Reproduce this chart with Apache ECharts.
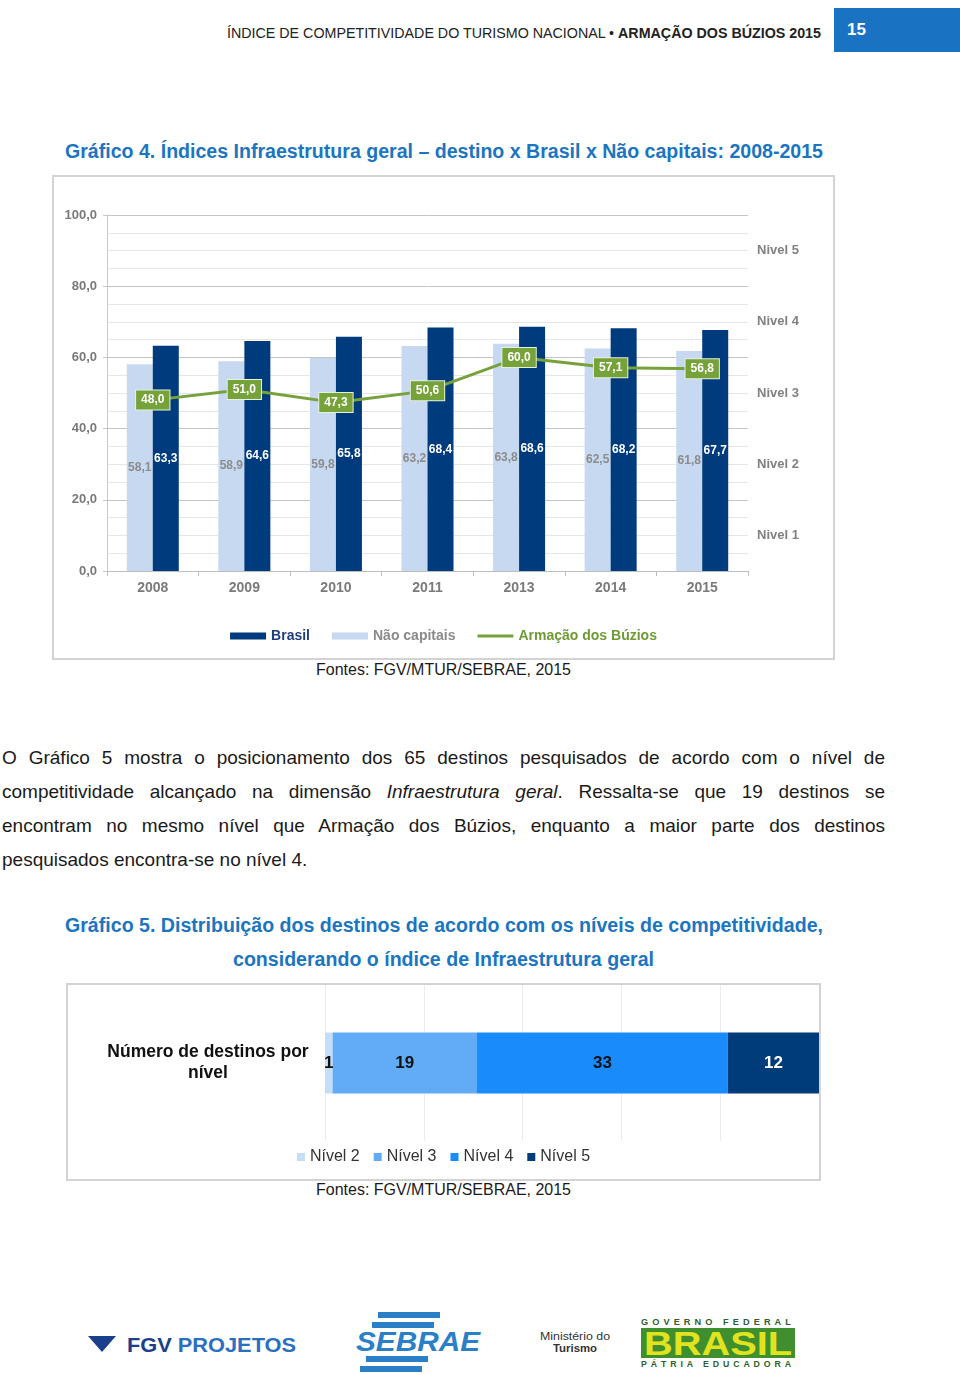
<!DOCTYPE html>
<html><head><meta charset="utf-8">
<script src="https://cdn.jsdelivr.net/npm/echarts@6/dist/echarts.min.js"></script>
<style>
html,body{margin:0;padding:0;background:#fff;}
body{width:960px;height:1375px;position:relative;overflow:hidden;font-family:"Liberation Sans",Arial,sans-serif;color:#1a1a1a;}
.abs{position:absolute;white-space:nowrap;}
.fit{transform-origin:left top;display:inline-block;}
.title{color:#1b75c0;font-weight:bold;font-size:20px;}
.para div{text-align:justify;text-align-last:justify;font-size:19px;line-height:34px;height:34px;white-space:normal;}
.para div.last{text-align-last:left;}
.box{position:absolute;border:2px solid #d3d3d3;box-sizing:border-box;}
</style></head>
<body>
<div class="abs" style="left:227px;top:25px;font-size:14.5px;color:#222;" data-w="594"><span class="fit">ÍNDICE DE COMPETITIVIDADE DO TURISMO NACIONAL • <b>ARMAÇÃO DOS BÚZIOS 2015</b></span></div>
<div class="abs" style="left:834px;top:8px;width:126px;height:44px;background:#1a72c2;"></div>
<div class="abs" style="left:847px;top:20px;color:#fff;font-weight:bold;font-size:17px;">15</div>

<div class="abs title" style="left:65px;top:140px;" data-w="758"><span class="fit">Gráfico 4. Índices Infraestrutura geral – destino x Brasil x Não capitais: 2008-2015</span></div>

<div class="box" style="left:52px;top:175px;width:783px;height:485px;"></div>
<div id="c1" style="position:absolute;left:54px;top:177px;width:779px;height:481px;"></div>
<div class="abs" style="left:316px;top:661px;font-size:16px;" data-w="255"><span class="fit">Fontes: FGV/MTUR/SEBRAE, 2015</span></div>

<div class="abs para" style="left:2px;top:741px;width:883px;white-space:normal;">
<div>O Gráfico 5 mostra o posicionamento dos 65 destinos pesquisados de acordo com o nível de</div>
<div>competitividade alcançado na dimensão <i>Infraestrutura geral</i>. Ressalta-se que 19 destinos se</div>
<div>encontram no mesmo nível que Armação dos Búzios, enquanto a maior parte dos destinos</div>
<div class="last">pesquisados encontra-se no nível 4.</div>
</div>

<div class="abs title" style="left:65px;top:914px;" data-w="758"><span class="fit">Gráfico 5. Distribuição dos destinos de acordo com os níveis de competitividade,</span></div>
<div class="abs title" style="left:233px;top:948px;" data-w="421"><span class="fit">considerando o índice de Infraestrutura geral</span></div>

<div class="box" style="left:66px;top:983px;width:755px;height:198px;"></div>
<div id="c2" style="position:absolute;left:68px;top:985px;width:751px;height:194px;"></div>
<div class="abs" style="left:316px;top:1181px;font-size:16px;" data-w="255"><span class="fit">Fontes: FGV/MTUR/SEBRAE, 2015</span></div>

<!-- logos as text -->
<div class="abs" style="left:88px;top:1336px;width:0;height:0;border-left:14px solid transparent;border-right:14px solid transparent;border-top:16px solid #1b3f8b;"></div>
<div class="abs" style="left:127px;top:1333px;font-size:21px;font-weight:900;color:#1b3f8b;" data-w="169"><span class="fit">FGV <span style="color:#2a6fc0">PROJETOS</span></span></div>
<div class="abs" style="left:378px;top:1312px;width:62px;height:6px;background:#2a7fc6;"></div>
<div class="abs" style="left:372px;top:1322px;width:62px;height:6px;background:#2a7fc6;"></div>
<div class="abs" style="left:366px;top:1356px;width:62px;height:6px;background:#2a7fc6;"></div>
<div class="abs" style="left:360px;top:1366px;width:62px;height:6px;background:#2a7fc6;"></div>
<div class="abs" style="left:356px;top:1326px;font-size:28px;font-weight:900;font-style:italic;color:#2a7fc6;" data-w="124"><span class="fit">SEBRAE</span></div>
<div class="abs" style="left:540px;top:1330px;font-size:11px;color:#333;" data-w="70"><span class="fit">Ministério do</span></div>
<div class="abs" style="left:553px;top:1342px;font-size:11px;font-weight:bold;color:#333;" data-w="44"><span class="fit">Turismo</span></div>
<div class="abs" style="left:641px;top:1317px;font-size:9px;font-weight:bold;color:#2f5f2a;letter-spacing:4px;" data-w="154"><span class="fit">GOVERNO FEDERAL</span></div>
<div class="abs" style="left:641px;top:1328px;width:154px;height:30px;background:#3f8f2f;"></div>
<div class="abs" style="left:644px;top:1326px;font-size:34px;line-height:34px;font-weight:900;color:#e2e31f;" data-w="148"><span class="fit">BRASIL</span></div>
<div class="abs" style="left:641px;top:1359px;font-size:9px;font-weight:bold;color:#2f5f2a;letter-spacing:4px;" data-w="154"><span class="fit">PÁTRIA EDUCADORA</span></div>

<script>
// ---------- data ----------
const years = ['2008','2009','2010','2011','2013','2014','2015'];
const brasil = [63.3, 64.6, 65.8, 68.4, 68.6, 68.2, 67.7];
const naoCapitais = [58.1, 58.9, 59.8, 63.2, 63.8, 62.5, 61.8];
const buzios = [48.0, 51.0, 47.3, 50.6, 60.0, 57.1, 56.8];
const levelTicks = [10, 30, 50, 70, 90];
const levelLabels = ['Nivel 1', 'Nivel 2', 'Nivel 3', 'Nivel 4', 'Nivel 5'];

const dist = [1, 19, 33, 12];
const distNames = ['Nível 2', 'Nível 3', 'Nível 4', 'Nível 5'];
const distCategory = ['Número de destinos por\nnível'];

// ---------- fit page texts ----------
document.querySelectorAll('[data-w]').forEach(el => {
  const s = el.querySelector('.fit');
  const w = s.getBoundingClientRect().width;
  const t = parseFloat(el.dataset.w);
  if (w > 0) s.style.transform = 'scaleX(' + (t / w) + ')';
});

const NF = '"Liberation Sans Narrow","Arial Narrow","Liberation Sans",Arial,sans-serif';
const fmt = v => Number(v).toFixed(1).replace('.', ',');
const cDark = '#003b7e', cLight = '#c6d9f0', cGreen = '#77a23b';

const c1 = echarts.init(document.getElementById('c1'), null, {renderer:'canvas'});
c1.setOption({
  animation:false,
  textStyle:{fontFamily:NF},
  grid:{left:53, right:85, top:38, bottom:87},
  legend:{
    top:447, left:'center', itemWidth:36, itemHeight:7, itemGap:22,
    textStyle:{fontFamily:NF, fontWeight:'bold', fontSize:14},
    data:[
      {name:'Brasil', icon:'rect', textStyle:{color:'#1f3d7a'}},
      {name:'Não capitais', icon:'rect', textStyle:{color:'#8a8a8a'}},
      {name:'Armação dos Búzios', icon:'path://M0,0H36V3H0Z', textStyle:{color:'#6f9a34'}}
    ]
  },
  xAxis:{
    type:'category', data:years,
    axisLine:{lineStyle:{color:'#bdbdbd'}},
    axisTick:{show:true, length:5, lineStyle:{color:'#bdbdbd'}},
    axisLabel:{color:'#7a7a7a', fontWeight:'bold', fontSize:14, margin:10, fontFamily:NF}
  },
  yAxis:[{
    type:'value', min:0, max:100, interval:20,
    axisLine:{show:true, lineStyle:{color:'#c8c8c8'}},
    axisTick:{show:true, length:4, lineStyle:{color:'#c8c8c8'}},
    axisLabel:{color:'#7a7a7a', fontWeight:'bold', fontSize:13, formatter:fmt, margin:10, fontFamily:NF},
    splitLine:{lineStyle:{color:'#c4c4c4', width:1}},
    minorTick:{show:false, splitNumber:4},
    minorSplitLine:{show:true, lineStyle:{color:'#e6e6e6', width:1}}
  },{
    type:'value', min:0, max:100, interval:10, position:'right',
    axisLine:{show:false}, axisTick:{show:false}, splitLine:{show:false},
    axisLabel:{color:'#808080', fontWeight:'bold', fontSize:13, margin:9, fontFamily:NF,
      formatter:v => { const i = levelTicks.indexOf(Math.round(v)); return i >= 0 ? levelLabels[i] : ''; }}
  }],
  series:[
    {name:'Não capitais', type:'bar', data:naoCapitais, barWidth:26, barGap:'0%',
      itemStyle:{color:cLight},
      label:{show:true, position:'inside', formatter:p => fmt(p.value), color:'#8c8c8c', fontWeight:'bold', fontSize:12, fontFamily:NF}},
    {name:'Brasil', type:'bar', data:brasil, barWidth:26, barGap:'0%',
      itemStyle:{color:cDark},
      label:{show:true, position:'inside', formatter:p => fmt(p.value), color:'#fff', fontWeight:'bold', fontSize:12, fontFamily:NF}},
    {name:'Armação dos Búzios', type:'line', data:buzios, symbol:'circle', symbolSize:1, showSymbol:true, z:5,
      lineStyle:{color:cGreen, width:3}, itemStyle:{color:cGreen},
      label:{show:true, position:'inside', formatter:p => fmt(p.value), color:'#fff', fontWeight:'bold', fontSize:12,
        backgroundColor:'#76a23a', borderColor:'#e8f0dc', borderWidth:1, padding:[4,5,3,5], fontFamily:NF}}
  ]
});

const c2 = echarts.init(document.getElementById('c2'), null, {renderer:'canvas'});
const distColors = ['#c4def5', '#62abf7', '#1a8bfb', '#003c7a'];
const distLabelColors = ['#111', '#111', '#111', '#fff'];
c2.setOption({
  animation:false,
  textStyle:{fontFamily:NF},
  grid:{left:257, right:0, top:0, bottom:38},
  legend:{
    top:159, left:'center', icon:'rect', itemWidth:8, itemHeight:8, itemGap:14,
    textStyle:{fontFamily:NF, fontSize:16, color:'#333'},
    data:distNames
  },
  xAxis:{type:'value', min:0, max:65, interval:13,
    axisLine:{show:false}, axisTick:{show:false}, axisLabel:{show:false},
    splitLine:{lineStyle:{color:'#ededed'}}},
  yAxis:{type:'category', data:distCategory,
    axisLine:{show:false}, axisTick:{show:false},
    axisLabel:{align:'center', margin:117, color:'#111', fontWeight:'bold', fontSize:17.5, lineHeight:21, fontFamily:NF}},
  series:distNames.map((n, i) => ({
    name:n, type:'bar', stack:'t', barWidth:61, data:[dist[i]],
    itemStyle:{color:distColors[i]},
    label:{show:true, position:'inside', color:distLabelColors[i], fontWeight:'bold', fontSize:17, fontFamily:NF}
  }))
});
</script>
</body></html>
